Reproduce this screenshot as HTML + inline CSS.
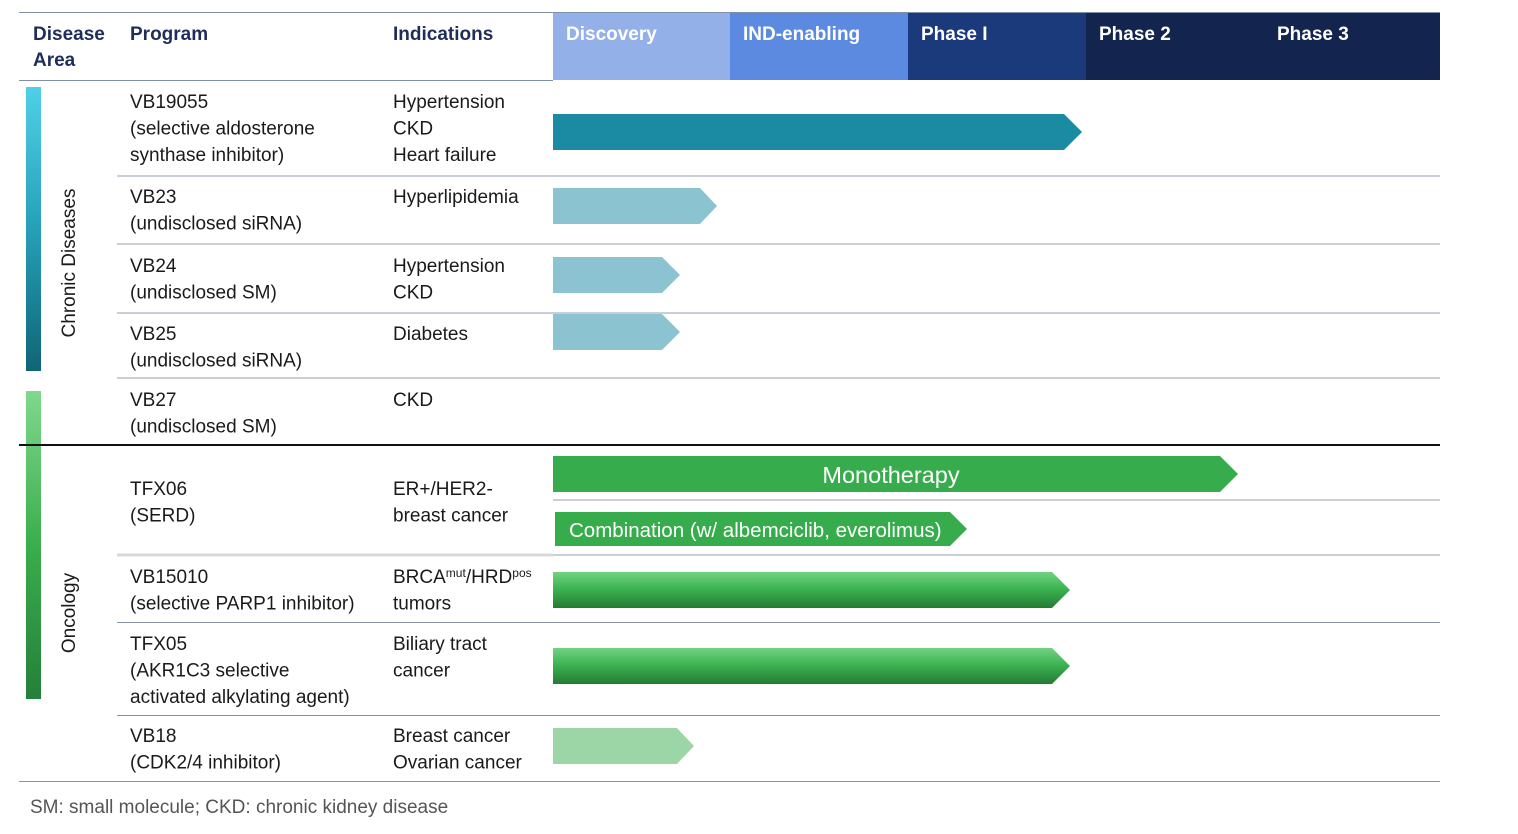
<!DOCTYPE html>
<html><head><meta charset="utf-8"><style>
html,body{margin:0;padding:0;background:#fff}
svg{display:block}
text{font-family:"Liberation Sans",sans-serif;font-size:19px;fill:#1a1a1a}
.h{font-weight:bold;fill:#1f2d5a;font-size:19px}
.hw{font-weight:bold;fill:#fff;font-size:19px}
</style></head><body>
<svg width="1518" height="834" viewBox="0 0 1518 834">
<defs>
<linearGradient id="teal" x1="0" y1="0" x2="0" y2="1"><stop offset="0" stop-color="#4fd0e6"/><stop offset="0.5" stop-color="#25a0b8"/><stop offset="1" stop-color="#106575"/></linearGradient>
<linearGradient id="grn" x1="0" y1="0" x2="0" y2="1"><stop offset="0" stop-color="#80d88c"/><stop offset="0.5" stop-color="#3aae4c"/><stop offset="1" stop-color="#24803a"/></linearGradient>
<linearGradient id="bar" x1="0" y1="0" x2="0" y2="1"><stop offset="0" stop-color="#72d282"/><stop offset="0.45" stop-color="#3db553"/><stop offset="1" stop-color="#237b33"/></linearGradient>
</defs>
<rect x="553" y="12" width="177" height="68" fill="#94b0e8"/>
<rect x="730" y="12" width="178" height="68" fill="#5b8ae0"/>
<rect x="908" y="12" width="178" height="68" fill="#1a3a7c"/>
<rect x="1086" y="12" width="354" height="68" fill="#13244f"/>
<line x1="19" y1="12.5" x2="1440" y2="12.5" stroke="#8090a8" stroke-width="1"/>
<line x1="19" y1="80.5" x2="553" y2="80.5" stroke="#8090a8" stroke-width="1"/>
<text class="h" x="33" y="40">Disease</text><text class="h" x="33" y="66">Area</text>
<text class="h" x="130" y="40">Program</text>
<text class="h" x="393" y="40">Indications</text>
<text class="hw" x="566" y="40">Discovery</text>
<text class="hw" x="743" y="40">IND-enabling</text>
<text class="hw" x="921" y="40">Phase I</text>
<text class="hw" x="1099" y="40">Phase 2</text>
<text class="hw" x="1277" y="40">Phase 3</text>
<rect x="26" y="87" width="15" height="284" fill="url(#teal)"/>
<rect x="26" y="391" width="15" height="308" fill="url(#grn)"/>
<text transform="translate(75,263) rotate(-90)" text-anchor="middle">Chronic Diseases</text>
<text transform="translate(75,613) rotate(-90)" text-anchor="middle">Oncology</text>
<g stroke="#b8bdc8" stroke-width="1.5">
<line x1="117" y1="176" x2="1440" y2="176"/>
<line x1="117" y1="244" x2="1440" y2="244"/>
<line x1="117" y1="313" x2="1440" y2="313"/>
<line x1="117" y1="378" x2="1440" y2="378"/>
<line x1="553" y1="500" x2="1440" y2="500"/>
<line x1="553" y1="555" x2="1440" y2="555"/>
</g>
<line x1="117" y1="555" x2="553" y2="555" stroke="#d8d8d8" stroke-width="3"/>
<g stroke="#8894a8" stroke-width="1">
<line x1="117" y1="622.5" x2="1440" y2="622.5"/>
<line x1="117" y1="715.5" x2="1440" y2="715.5"/>
<line x1="19" y1="781.5" x2="1440" y2="781.5"/>
</g>
<line x1="19" y1="445" x2="1440" y2="445" stroke="#111" stroke-width="2"/>
<polygon points="553,114 1064,114 1082,132 1064,150 553,150" fill="#1b8aa3"/>
<polygon points="553,188 700,188 717,206 700,224 553,224" fill="#8cc3d1"/>
<polygon points="553,257 662,257 680,275 662,293 553,293" fill="#8cc3d1"/>
<polygon points="553,314 662,314 680,332 662,350 553,350" fill="#8cc3d1"/>
<polygon points="553,456 1220,456 1238,474 1220,492 553,492" fill="#36ac4c"/>
<polygon points="555,512 950,512 967,529 950,546 555,546" fill="#36ac4c"/>
<polygon points="553,572 1052,572 1070,590 1052,608 553,608" fill="url(#bar)"/>
<polygon points="553,648 1052,648 1070,666 1052,684 553,684" fill="url(#bar)"/>
<polygon points="553,728 677,728 694,746 677,764 553,764" fill="#9cd6a6"/>
<text x="891" y="483" text-anchor="middle" style="fill:#fff;font-size:23.5px">Monotherapy</text>
<text x="569" y="537" style="fill:#fff;font-size:20.5px">Combination (w/ albemciclib, everolimus)</text>
<text x="130" y="108">VB19055</text><text x="130" y="134.5">(selective aldosterone</text><text x="130" y="161">synthase inhibitor)</text>
<text x="393" y="108">Hypertension</text><text x="393" y="134.5">CKD</text><text x="393" y="161">Heart failure</text>
<text x="130" y="203">VB23</text><text x="130" y="229.5">(undisclosed siRNA)</text>
<text x="393" y="203">Hyperlipidemia</text>
<text x="130" y="272">VB24</text><text x="130" y="298.5">(undisclosed SM)</text>
<text x="393" y="272">Hypertension</text><text x="393" y="298.5">CKD</text>
<text x="130" y="340">VB25</text><text x="130" y="366.5">(undisclosed siRNA)</text>
<text x="393" y="340">Diabetes</text>
<text x="130" y="406">VB27</text><text x="130" y="432.5">(undisclosed SM)</text>
<text x="393" y="406">CKD</text>
<text x="130" y="495">TFX06</text><text x="130" y="521.5">(SERD)</text>
<text x="393" y="495">ER+/HER2-</text><text x="393" y="521.5">breast cancer</text>
<text x="130" y="583">VB15010</text><text x="130" y="609.5">(selective PARP1 inhibitor)</text>
<text x="393" y="583">BRCA<tspan dy="-6" style="font-size:12px">mut</tspan><tspan dy="6">/HRD</tspan><tspan dy="-6" style="font-size:12px">pos</tspan></text><text x="393" y="609.5">tumors</text>
<text x="130" y="650">TFX05</text><text x="130" y="676.5">(AKR1C3 selective</text><text x="130" y="703">activated alkylating agent)</text>
<text x="393" y="650">Biliary tract</text><text x="393" y="676.5">cancer</text>
<text x="130" y="742">VB18</text><text x="130" y="768.5">(CDK2/4 inhibitor)</text>
<text x="393" y="742">Breast cancer</text><text x="393" y="768.5">Ovarian cancer</text>
<text x="30" y="813" style="fill:#555;font-size:19px">SM: small molecule; CKD: chronic kidney disease</text>
</svg>
</body></html>
